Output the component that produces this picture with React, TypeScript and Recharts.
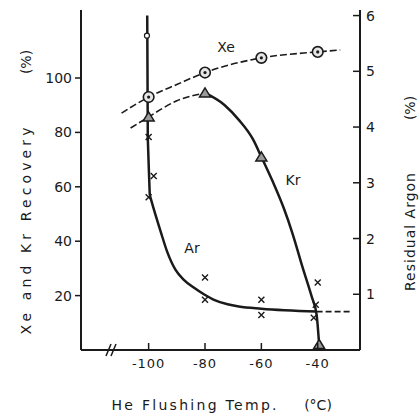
import { ComposedChart, Line, Scatter, XAxis, YAxis } from "recharts";

type Pt = { x: number; y: number };

const tempTicks = [-100, -80, -60, -40];
const recoveryTicks = [20, 40, 60, 80, 100];
const argonTicks = [1, 2, 3, 4, 5, 6];

// Xe recovery (%) – circles on a dashed curve
const xeMarks: Pt[] = [
  { x: -100, y: 93 },
  { x: -80, y: 102 },
  { x: -60, y: 107.4 },
  { x: -40, y: 109.6 },
];
const xeCurve: Pt[] = [
  { x: -109.6, y: 87.1 },
  { x: -100, y: 93 },
  { x: -90, y: 97.6 },
  { x: -80, y: 102 },
  { x: -60, y: 107.4 },
  { x: -40, y: 109.6 },
  { x: -32, y: 110.3 },
];

// Kr recovery (%) – triangles
const krMarks: Pt[] = [
  { x: -100, y: 85.7 },
  { x: -80, y: 94.5 },
  { x: -60, y: 71 },
  { x: -39.5, y: 2 },
];
const krDashed: Pt[] = [
  { x: -106.4, y: 81.6 },
  { x: -100, y: 85.7 },
  { x: -90, y: 91.6 },
  { x: -80, y: 94.5 },
];
const krSolid: Pt[] = [
  { x: -80, y: 94.5 },
  { x: -73, y: 90 },
  { x: -68, y: 84.6 },
  { x: -63, y: 77.5 },
  { x: -60, y: 71 },
  { x: -56, y: 62 },
  { x: -52, y: 52 },
  { x: -49, y: 43 },
  { x: -45.4, y: 30.5 },
  { x: -42.1, y: 19.5 },
  { x: -40.4, y: 13 },
  { x: -39.5, y: 2 },
];

// residual argon (%) – crosses, right axis
const arMarks: Pt[] = [
  { x: -100, y: 3.82 },
  { x: -98.2, y: 3.12 },
  { x: -100, y: 2.74 },
  { x: -80, y: 1.3 },
  { x: -80, y: 0.9 },
  { x: -60, y: 0.9 },
  { x: -60, y: 0.63 },
  { x: -40, y: 1.21 },
  { x: -40.7, y: 0.81 },
  { x: -41.4, y: 0.58 },
];
const arOpen: Pt[] = [{ x: -100.6, y: 5.64 }];
const arDrop: Pt[] = [
  { x: -100.5, y: 6.0 },
  { x: -100.3, y: 3.8 },
  { x: -99.9, y: 3.2 },
  { x: -99.6, y: 2.78 },
];
const arCurve: Pt[] = [
  { x: -99.6, y: 2.78 },
  { x: -98.3, y: 2.55 },
  { x: -95.7, y: 2.12 },
  { x: -93.4, y: 1.76 },
  { x: -90.5, y: 1.44 },
  { x: -87.5, y: 1.26 },
  { x: -84, y: 1.12 },
  { x: -80.4, y: 1.0 },
  { x: -76.8, y: 0.9 },
  { x: -72, y: 0.82 },
  { x: -68, y: 0.78 },
  { x: -60, y: 0.74 },
  { x: -40.4, y: 0.69 },
];
const arTail: Pt[] = [
  { x: -40.4, y: 0.69 },
  { x: -28.6, y: 0.69 },
];

const INK = "#1a1a1a";
const FONT = "'DejaVu Sans', sans-serif";

const BottomTick = (p: any) => (
  <g>
    <line x1={p.x} y1={p.y} x2={p.x} y2={p.y - 7} stroke={INK} strokeWidth={1.5} />
    <text x={p.x} y={p.y + 18} textAnchor="middle" fontSize={13} fill={INK} letterSpacing={1}>
      {p.payload.value}
    </text>
  </g>
);

const RightTick = (p: any) => (
  <g>
    <line x1={p.x - 7} y1={p.y} x2={p.x} y2={p.y} stroke={INK} strokeWidth={1.5} />
    <text x={p.x + 6} y={p.y + 5} textAnchor="start" fontSize={14} fill={INK}>
      {p.payload.value}
    </text>
  </g>
);

const Ring = (p: any) => (
  <g>
    <circle cx={p.cx} cy={p.cy} r={5.3} fill="#e6e6e6" stroke={INK} strokeWidth={1.6} />
    <circle cx={p.cx} cy={p.cy} r={1.6} fill={INK} />
  </g>
);
const SmallRing = (p: any) => (
  <circle cx={p.cx} cy={p.cy} r={2.5} fill="#fff" stroke={INK} strokeWidth={1.2} />
);
const Tri = (p: any) => (
  <polygon
    points={`${p.cx},${p.cy - 5} ${p.cx - 5.5},${p.cy + 4} ${p.cx + 5.5},${p.cy + 4}`}
    fill="#9a9a9a"
    stroke={INK}
    strokeWidth={1.5}
  />
);
const Cross = (p: any) => (
  <path
    d={`M${p.cx - 3},${p.cy - 3}L${p.cx + 3},${p.cy + 3}M${p.cx + 3},${p.cy - 3}L${p.cx - 3},${p.cy + 3}`}
    stroke={INK}
    strokeWidth={1.4}
  />
);

// titles, inline series names and the axis break
const Decor = () => (
  <g fill={INK} fontFamily={FONT}>
    <text transform="translate(31,231) rotate(-90)" textAnchor="middle" fontSize={14}
      textLength={207} lengthAdjust="spacing">Xe and Kr Recovery</text>
    <text transform="translate(31,62) rotate(-90)" textAnchor="middle" fontSize={14}>(%)</text>
    <text transform="translate(415,232) rotate(-90)" textAnchor="middle" fontSize={14}
      textLength={118} lengthAdjust="spacing">Residual Argon</text>
    <text transform="translate(415,108) rotate(-90)" textAnchor="middle" fontSize={14}>(%)</text>
    <text x={194} y={410} textAnchor="middle" fontSize={14} textLength={165}
      lengthAdjust="spacing">He Flushing Temp.</text>
    <text x={318} y={410} textAnchor="middle" fontSize={14}>(°C)</text>
    <text x={226} y={52} textAnchor="middle" fontSize={14}>Xe</text>
    <text x={293} y={185} textAnchor="middle" fontSize={14}>Kr</text>
    <text x={192} y={253} textAnchor="middle" fontSize={14}>Ar</text>
    <path d="M106,356L111,344M111,356L116,344" stroke={INK} strokeWidth={1.5} fill="none" />
  </g>
);

export default function App() {
  return (
    <div style={{ position: "absolute", left: 0, top: 0, fontFamily: FONT }}>
      <ComposedChart
        width={420}
        height={416}
        margin={{ top: 10, right: 0, bottom: 0, left: 0 }}
      >
        <XAxis
          dataKey="x"
          type="number"
          domain={[-124, -25]}
          allowDataOverflow
          ticks={tempTicks}
          height={66}
          tickSize={0}
          tickMargin={0}
          tick={BottomTick}
          axisLine={{ stroke: INK, strokeWidth: 2 }}
          label={{ content: () => <Decor /> }}
        />
        <XAxis
          xAxisId="top"
          orientation="top"
          dataKey="x"
          type="number"
          domain={[-124, -25]}
          height={0}
          tick={false}
          tickLine={false}
          axisLine={{ stroke: INK, strokeWidth: 2 }}
        />
        <YAxis
          yAxisId="left"
          dataKey="y"
          type="number"
          domain={[0, 125]}
          ticks={recoveryTicks}
          width={81}
          tickSize={6}
          tickMargin={3}
          tickLine={{ stroke: INK, strokeWidth: 1.5 }}
          tick={{ fill: INK, fontSize: 14 }}
          axisLine={{ stroke: INK, strokeWidth: 2 }}
        />
        <YAxis
          yAxisId="right"
          orientation="right"
          dataKey="y"
          type="number"
          domain={[0, 6.1]}
          ticks={argonTicks}
          width={60}
          tickSize={0}
          tickMargin={0}
          tick={RightTick}
          axisLine={{ stroke: INK, strokeWidth: 2 }}
        />

        <Line yAxisId="left" data={xeCurve} dataKey="y" type="monotone" stroke={INK}
          strokeWidth={1.6} strokeDasharray="7 3" dot={false} activeDot={false}
          isAnimationActive={false} />
        <Line yAxisId="left" data={krDashed} dataKey="y" type="monotone" stroke={INK}
          strokeWidth={1.6} strokeDasharray="7 3" dot={false} activeDot={false}
          isAnimationActive={false} />
        <Line yAxisId="left" data={krSolid} dataKey="y" type="monotone" stroke={INK}
          strokeWidth={2.5} dot={false} activeDot={false} isAnimationActive={false} />
        <Line yAxisId="right" data={arDrop} dataKey="y" type="linear" stroke={INK}
          strokeWidth={2.5} dot={false} activeDot={false} isAnimationActive={false} />
        <Line yAxisId="right" data={arCurve} dataKey="y" type="monotone" stroke={INK}
          strokeWidth={2.5} dot={false} activeDot={false} isAnimationActive={false} />
        <Line yAxisId="right" data={arTail} dataKey="y" type="linear" stroke={INK}
          strokeWidth={1.8} strokeDasharray="6 3" dot={false} activeDot={false}
          isAnimationActive={false} />

        <Scatter yAxisId="left" data={xeMarks} dataKey="y" shape={Ring} isAnimationActive={false} />
        <Scatter yAxisId="left" data={krMarks} dataKey="y" shape={Tri} isAnimationActive={false} />
        <Scatter yAxisId="right" data={arMarks} dataKey="y" shape={Cross} isAnimationActive={false} />
        <Scatter yAxisId="right" data={arOpen} dataKey="y" shape={SmallRing} isAnimationActive={false} />
      </ComposedChart>
    </div>
  );
}
